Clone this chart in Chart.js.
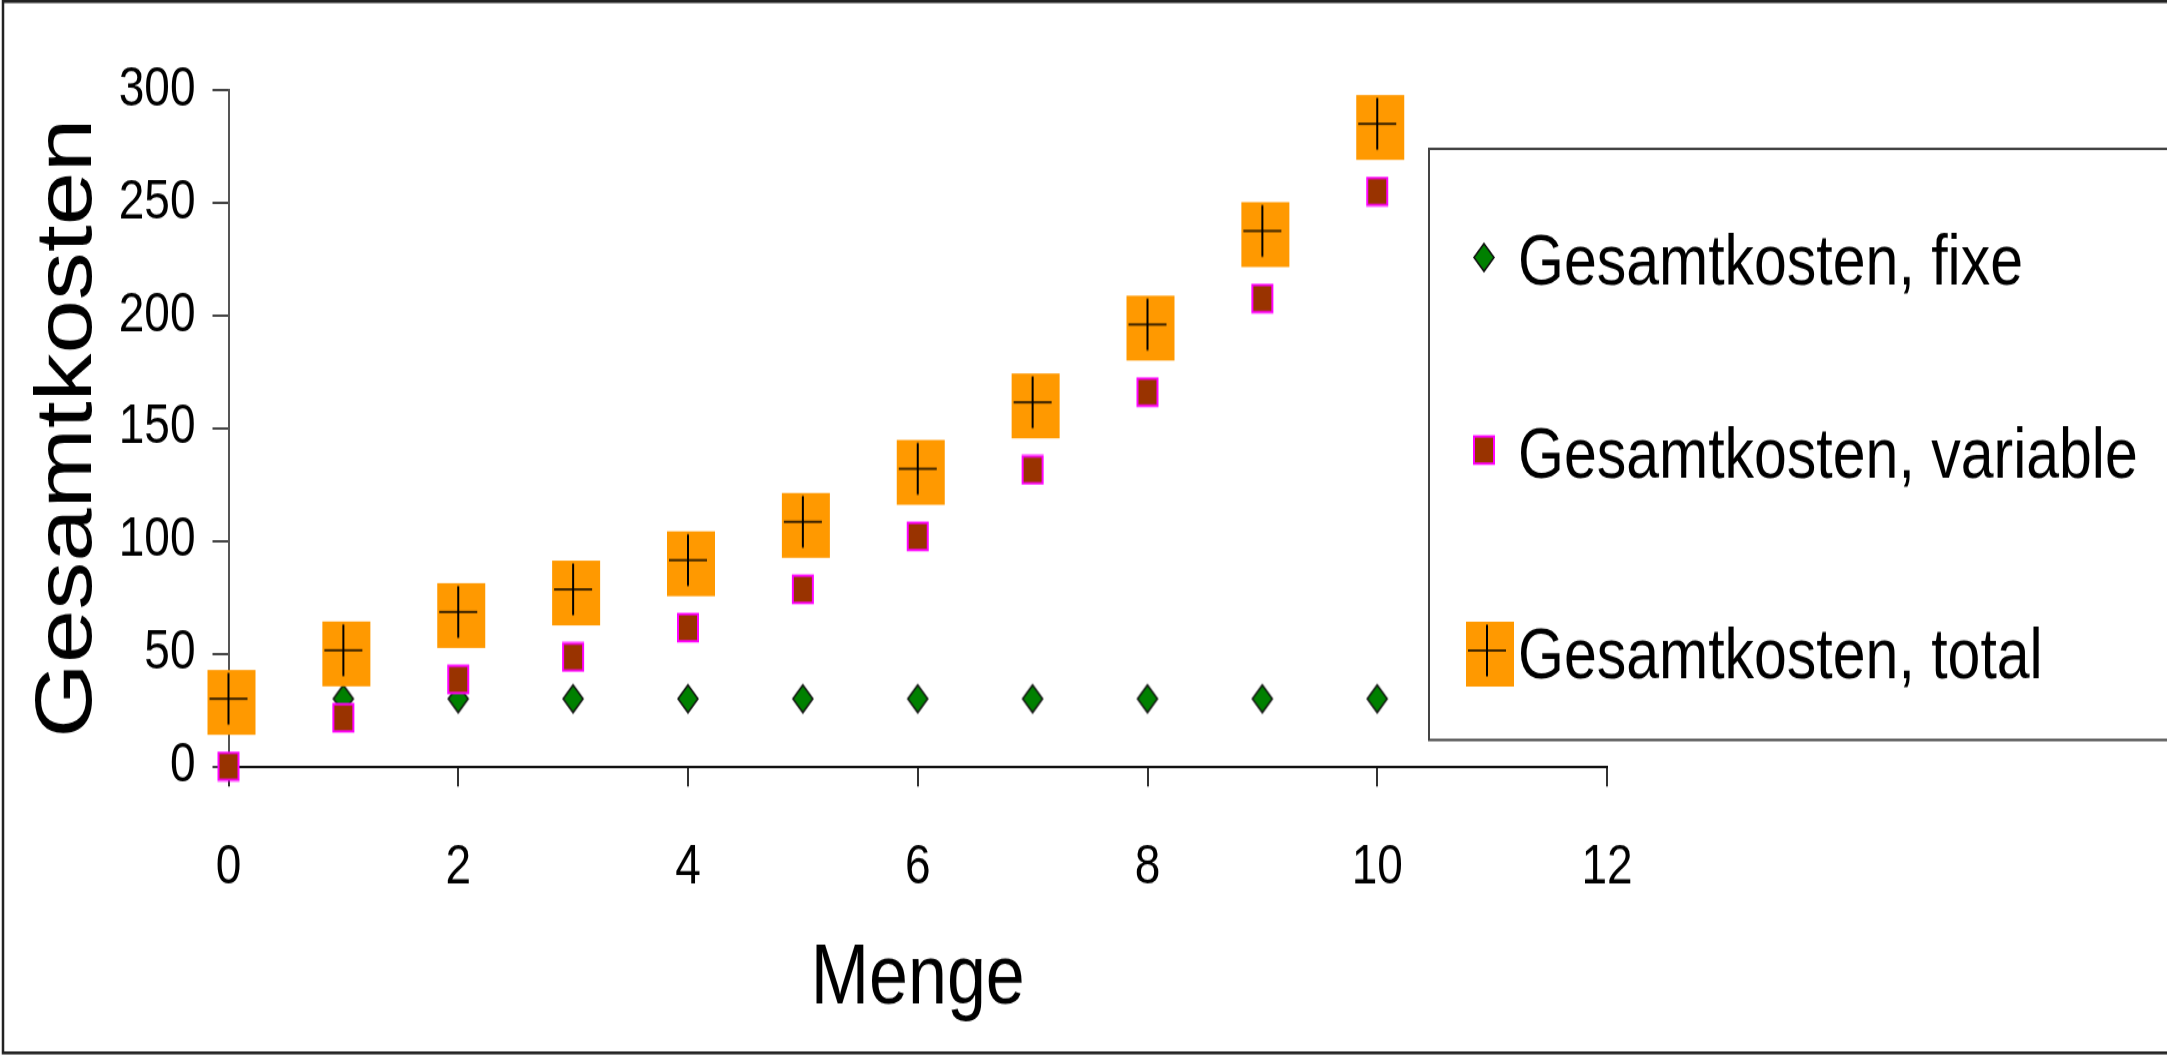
<!DOCTYPE html>
<html>
<head>
<meta charset="utf-8">
<title>Gesamtkosten</title>
<script src="https://cdn.jsdelivr.net/npm/chart.js@4.4.1/dist/chart.umd.min.js"></script>
<style>
  html, body { margin: 0; padding: 0; background: #fff; }
  body { width: 2167px; height: 1055px; }
  /* die vorlage ist senkrecht gestreckt (schrift wirkt schmal), daher wird die canvas gestreckt */
  #kosten { display: block; transform-origin: 0 0; transform: scaleY(1.20023); }
</style>
</head>
<body>
<canvas id="kosten" width="2167" height="879"></canvas>
<script>
//Werte
const mengen = [0, 1, 2, 3, 4, 5, 6, 7, 8, 9, 10];
const kostenFix = [30, 30, 30, 30, 30, 30, 30, 30, 30, 30, 30];
const kostenVariabel = [0, 21.5, 38.5, 48.5, 61.5, 78.5, 102, 131.5, 166, 207.5, 255];
const kostenTotal = [30, 51.5, 68.5, 78.5, 91.5, 108.5, 132, 161.5, 196, 237.5, 285];
const serienNamen = ['Gesamtkosten, fixe', 'Gesamtkosten, variable', 'Gesamtkosten, total'];
const xTicks = [0, 2, 4, 6, 8, 10, 12];
const yTicks = [0, 50, 100, 150, 200, 250, 300];

const schrift = "'Liberation Sans', Arial, sans-serif";

//marker als kleine canvas-bilder, wie in der vorlage
function rautePunkt() {
    const c = document.createElement('canvas');
    c.width = 24; c.height = 27;
    const g = c.getContext('2d');
    g.beginPath();
    g.moveTo(12, 2); g.lineTo(22, 13.5); g.lineTo(12, 25); g.lineTo(2, 13.5);
    g.closePath();
    g.fillStyle = '#008000';
    g.fill();
    g.lineWidth = 1.5;
    g.strokeStyle = '#111';
    g.stroke();
    return c;
}
function quadratPunkt() {
    const c = document.createElement('canvas');
    c.width = 24; c.height = 26;
    const g = c.getContext('2d');
    g.fillStyle = '#993300';
    g.fillRect(2, 1.6, 20, 22.7);
    g.lineWidth = 2;
    g.strokeStyle = '#ff00ff';
    g.strokeRect(2, 1.6, 20, 22.7);
    return c;
}
function kreuzPunkt() {
    const c = document.createElement('canvas');
    c.width = 56; c.height = 64;
    const g = c.getContext('2d');
    g.fillStyle = '#ff9900';
    g.fillRect(7, 8, 48, 54);
    g.strokeStyle = '#000';
    g.lineWidth = 2;
    g.beginPath();
    g.moveTo(28, 10.5); g.lineTo(28, 53.5);
    g.stroke();
    g.lineWidth = 1.7;
    g.beginPath();
    g.moveTo(9, 32); g.lineTo(47, 32);
    g.stroke();
    return c;
}

function punkte(werte) {
    return mengen.map((m, i) => ({ x: m, y: werte[i] }));
}

//rahmen und legende selbst zeichnen, die legende liegt ueber der plotflaeche
const rahmenPlugin = {
    id: 'rahmen',
    beforeDraw(chart) {
        const c = chart.ctx;
        c.save();
        c.fillStyle = '#fff';
        c.fillRect(0, 0, chart.width, chart.height);
        c.restore();
    },
    afterDraw(chart) {
        const c = chart.ctx;
        c.save();
        c.strokeStyle = '#222';
        c.lineWidth = 2.5;
        c.beginPath();
        c.moveTo(chart.width, 1.3); c.lineTo(3, 1.3); c.lineTo(3, 877.3); c.lineTo(chart.width, 877.3);
        c.stroke();

        //legende
        const lx = 1429, ly = 124, lb = 616.5;
        c.fillStyle = '#fff';
        c.fillRect(lx, ly, chart.width - lx, lb - ly);
        c.strokeStyle = '#444';
        c.lineWidth = 2;
        c.beginPath();
        c.moveTo(chart.width, ly); c.lineTo(lx, ly); c.lineTo(lx, lb); c.lineTo(chart.width, lb);
        c.stroke();
        const zeilen = [214, 375, 541.5];
        const markerX = [1484, 1484, 1487];
        c.font = '59px ' + schrift;
        c.fillStyle = '#000';
        c.textBaseline = 'alphabetic';
        c.textAlign = 'left';
        chart.data.datasets.forEach((ds, i) => {
            const bild = ds.pointStyle;
            c.drawImage(bild, Math.round(markerX[i] - bild.width / 2), Math.round(zeilen[i] - bild.height / 2));
            c.fillText(ds.label, 1518, zeilen[i] + 23);
        });
        c.restore();
    }
};

const ctx = document.getElementById('kosten').getContext('2d');
const myChart = new Chart(ctx, {
    type: 'scatter',
    data: {
        datasets: [
            { label: serienNamen[0], data: punkte(kostenFix), pointStyle: rautePunkt(), order: 2, clip: false },
            { label: serienNamen[1], data: punkte(kostenVariabel), pointStyle: quadratPunkt(), order: 1, clip: false },
            { label: serienNamen[2], data: punkte(kostenTotal), pointStyle: kreuzPunkt(), order: 0, clip: false }
        ]
    },
    options: {
        responsive: false,
        animation: false,
        layout: { padding: { left: 4, top: 75, right: 560, bottom: 0 } },
        plugins: {
            legend: { display: false },
            tooltip: { enabled: false }
        },
        scales: {
            x: {
                type: 'linear',
                position: 'bottom',
                min: xTicks[0],
                max: xTicks[xTicks.length - 1],
                ticks: { stepSize: xTicks[1] - xTicks[0], padding: 41, color: '#000', font: { family: schrift, size: 46 } },
                grid: { drawOnChartArea: false, tickLength: 16.7, color: '#333', lineWidth: 2 },
                border: { color: '#111', width: 2 },
                title: { display: true, text: 'Menge', color: '#000', font: { family: schrift, size: 70 }, padding: { top: 0, bottom: 20 } },
                afterFit: s => { s.height = 240.5; }
            },
            y: {
                min: yTicks[0],
                max: yTicks[yTicks.length - 1],
                ticks: { stepSize: yTicks[1] - yTicks[0], padding: 17, color: '#000', font: { family: schrift, size: 46 } },
                grid: { drawOnChartArea: false, tickLength: 16, color: '#444', lineWidth: 2 },
                border: { color: '#555', width: 2 },
                title: { display: true, text: 'Gesamtkosten', color: '#000', font: { family: schrift, size: 80 }, padding: { top: 17, bottom: 0 } },
                afterFit: s => { s.width = 224.5; }
            }
        }
    },
    plugins: [rahmenPlugin]
});
</script>
</body>
</html>
